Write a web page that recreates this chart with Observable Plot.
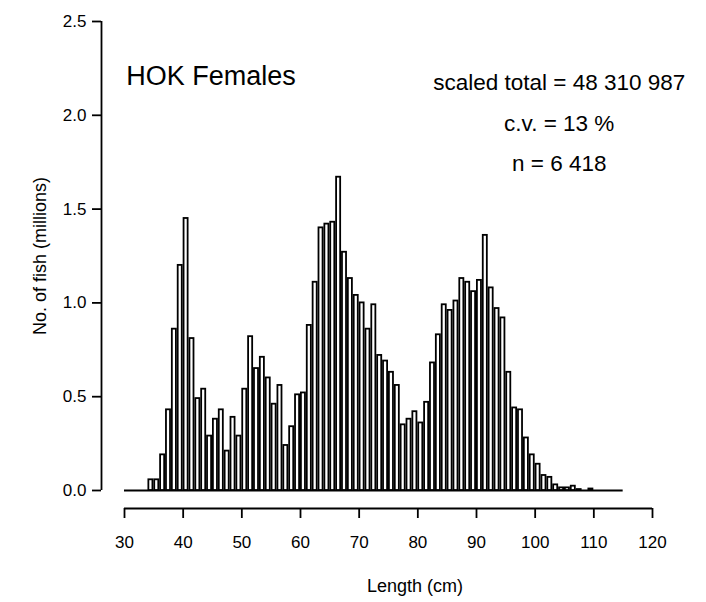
<!DOCTYPE html>
<html><head><meta charset="utf-8">
<script src="https://cdn.jsdelivr.net/npm/d3@7"></script>
<script src="https://cdn.jsdelivr.net/npm/@observablehq/plot@0.6"></script>
<style>
body{margin:0;background:#fff}
#chart svg{font-family:"Liberation Sans",Arial,Helvetica,sans-serif}
</style>
</head><body><div id="chart"></div>
<script>
// Length classes (cm, lower bin edge) and numbers of fish (millions)
const lengths = [34,35,36,37,38,39,40,41,42,43,44,45,46,47,48,49,50,51,52,53,54,55,56,57,58,59,60,61,62,63,64,65,66,67,68,69,70,71,72,73,74,75,76,77,78,79,80,81,82,83,84,85,86,87,88,89,90,91,92,93,94,95,96,97,98,99,100,101,102,103,104,105,106,107,108,109];
const counts = [0.057,0.057,0.19,0.43,0.86,1.20,1.45,0.81,0.49,0.54,0.29,0.38,0.43,0.21,0.39,0.29,0.54,0.82,0.65,0.71,0.60,0.46,0.56,0.24,0.34,0.51,0.52,0.88,1.11,1.40,1.42,1.43,1.67,1.27,1.13,1.04,1.00,0.86,0.99,0.72,0.69,0.63,0.56,0.35,0.38,0.42,0.36,0.47,0.68,0.83,0.99,0.96,1.01,1.13,1.11,1.06,1.12,1.36,1.08,0.97,0.92,0.63,0.44,0.43,0.28,0.19,0.14,0.08,0.07,0.03,0.014,0.014,0.023,0.005,0,0.008];
const xTicks = [30,40,50,60,70,80,90,100,110,120];
const yTicks = [0,0.5,1,1.5,2,2.5];
const baselineRange = [30,115];
const titleText = "HOK Females";
const statLines = ["scaled total = 48 310 987","c.v. = 13 %","n = 6 418"];
const xLabel = "Length (cm)";
const yLabel = "No. of fish (millions)";

const data = lengths.map((l,i)=>({len:l, n:counts[i]}));
const xDomain = [26.08,120];
const yDomain = [-0.096,2.5];

const chart = Plot.plot({
  width:706, height:602,
  marginLeft:101, marginRight:54, marginTop:21, marginBottom:94,
  x:{domain:xDomain, axis:null},
  y:{domain:yDomain, axis:null},
  marks:[
    Plot.ruleY([0],{x1:baselineRange[0], x2:baselineRange[1], stroke:"black", strokeWidth:2}),
    Plot.rect(data,{x1:"len", x2:d=>d.len+1, y1:0, y2:"n", fill:"white", stroke:"black", strokeWidth:1.8, insetLeft:0.9, insetRight:0.9}),
    // y axis (R style)
    Plot.ruleX([xDomain[0]],{y1:yTicks[0], y2:yTicks[yTicks.length-1], stroke:"black", strokeWidth:1.8}),
    Plot.axisY(yTicks,{anchor:"left", tickSize:9, tickPadding:6, tickFormat:d3.format(".1f"), fontSize:17, label:null, stroke:"black", strokeWidth:1.8, color:"black"}),
    // x axis (R style)
    Plot.ruleY([yDomain[0]],{x1:xTicks[0], x2:xTicks[xTicks.length-1], stroke:"black", strokeWidth:1.8}),
    Plot.axisX(xTicks,{anchor:"bottom", tickSize:10, tickPadding:17, fontSize:17, label:null, stroke:"black", strokeWidth:1.8, color:"black"}),
    Plot.text([xLabel],{x:79.5, y:-0.51, fontSize:18, textAnchor:"middle", fill:"black"}),
    Plot.text([yLabel],{x:15.7, y:1.25, fontSize:18, rotate:-90, textAnchor:"middle", fill:"black"}),
    Plot.text([titleText],{x:30.3, y:2.205, fontSize:27, textAnchor:"start", fill:"black"}),
    Plot.text(statLines,{x:104.1, y:[2.171,1.957,1.744], fontSize:22.5, textAnchor:"middle", fill:"black"})
  ]
});
document.getElementById("chart").append(chart);
</script>
</body></html>
